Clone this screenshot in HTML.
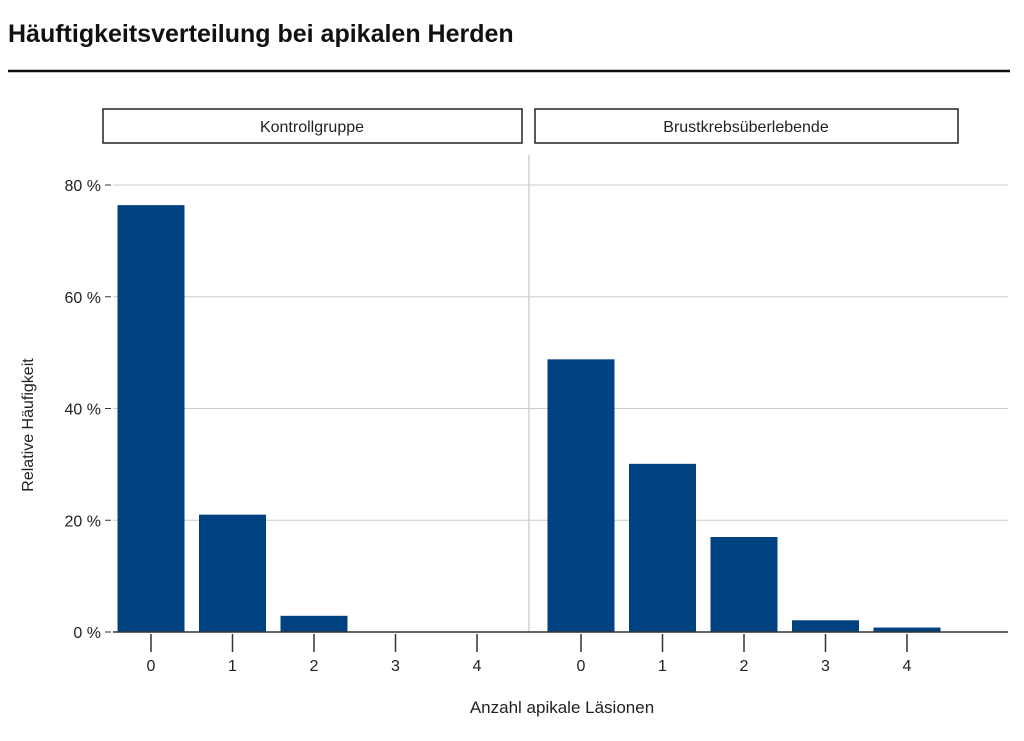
<!DOCTYPE html>
<html><head><meta charset="utf-8"><style>
body{margin:0;background:#fff;font-family:"Liberation Sans",sans-serif}
svg text{font-family:"Liberation Sans",sans-serif}
</style></head><body>
<svg width="1024" height="736" xmlns="http://www.w3.org/2000/svg">
<text x="8" y="42" font-size="25" font-weight="bold" fill="#111">Häuftigkeitsverteilung bei apikalen Herden</text>
<line x1="8" y1="71" x2="1010" y2="71" stroke="#111" stroke-width="2.5"/>
<rect x="103" y="109" width="419" height="34" fill="#fff" stroke="#222" stroke-width="1.5"/>
<text x="312" y="132" font-size="16" text-anchor="middle" fill="#222">Kontrollgruppe</text>
<rect x="535" y="109" width="423" height="34" fill="#fff" stroke="#222" stroke-width="1.5"/>
<text x="746" y="132" font-size="16" text-anchor="middle" fill="#222">Brustkrebsüberlebende</text>
<line x1="529" y1="155" x2="529" y2="632" stroke="#bbb" stroke-width="1"/>
<g id="grid"></g>
<g id="bars"></g>
<line x1="113" y1="632" x2="1008" y2="632" stroke="#333" stroke-width="1.5"/>
<g id="xticks"></g>
<text x="562" y="713" font-size="17" text-anchor="middle" fill="#222">Anzahl apikale Läsionen</text>
<text transform="translate(33,425) rotate(-90)" font-size="16" text-anchor="middle" fill="#222">Relative Häufigkeit</text>
</svg>
<script>
const categories=["0","1","2","3","4"];
const kontrollValues=[76.4,21.0,2.9,0,0];
const brustValues=[48.8,30.1,17.0,2.1,0.8];
const yTicks=[0,20,40,60,80];
const yTickLabels=["0 %","20 %","40 %","60 %","80 %"];
const NS="http://www.w3.org/2000/svg";
const y=v=>632-v*5.5875;
const xLeft=i=>151+i*81.5;
const xRight=i=>581+i*81.5;
const grid=document.getElementById('grid');
yTicks.forEach((t,i)=>{
  if(t>0){const l=document.createElementNS(NS,'line');
  l.setAttribute('x1',113);l.setAttribute('x2',1008);l.setAttribute('y1',y(t));l.setAttribute('y2',y(t));
  l.setAttribute('stroke','#ccc');l.setAttribute('stroke-width','1');
  
  
  grid.appendChild(l);}
  const tk=document.createElementNS(NS,'line');
  tk.setAttribute('x1',105);tk.setAttribute('x2',111);tk.setAttribute('y1',y(t));tk.setAttribute('y2',y(t));
  tk.setAttribute('stroke','#333');
  
  
  grid.appendChild(tk);
  const tx=document.createElementNS(NS,'text');
  tx.setAttribute('x',101);tx.setAttribute('y',y(t)+6);tx.setAttribute('text-anchor','end');tx.setAttribute('font-size','16');tx.setAttribute('fill','#222');
  tx.textContent=yTickLabels[i];
  
  
  grid.appendChild(tx);
});
const bars=document.getElementById('bars'),xt=document.getElementById('xticks');
function drawPanel(vals,xf,name){
  vals.forEach((v,i)=>{
    const r=document.createElementNS(NS,'rect');
    r.setAttribute('x',xf(i)-33.5);r.setAttribute('width',67);r.setAttribute('y',y(v));r.setAttribute('height',632-y(v));
    r.setAttribute('fill','#00427f');
    
    
    bars.appendChild(r);
    const tk=document.createElementNS(NS,'line');
    tk.setAttribute('x1',xf(i));tk.setAttribute('x2',xf(i));tk.setAttribute('y1',634);tk.setAttribute('y2',652);tk.setAttribute('stroke','#333');tk.setAttribute('stroke-width','1.5');
    
    
    xt.appendChild(tk);
    const tx=document.createElementNS(NS,'text');
    tx.setAttribute('x',xf(i));tx.setAttribute('y',671);tx.setAttribute('text-anchor','middle');tx.setAttribute('font-size','16');tx.setAttribute('fill','#222');
    tx.textContent=categories[i];
    
    
    xt.appendChild(tx);
  });
}
drawPanel(kontrollValues,xLeft,'kontroll');
drawPanel(brustValues,xRight,'brust');
</script>
</body></html>
